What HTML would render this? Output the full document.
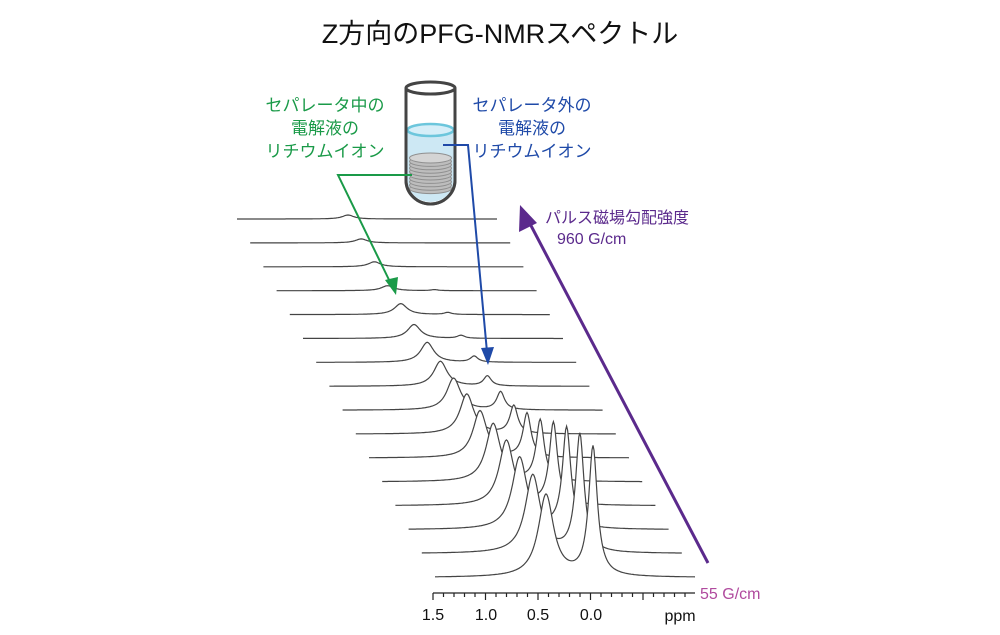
<!DOCTYPE html>
<html><head><meta charset="utf-8"><style>
html,body{margin:0;padding:0;background:#fff;}
svg{display:block}
text{font-family:"Liberation Sans","Noto Sans CJK JP",sans-serif;}
</style></head><body>
<svg id="s" width="1000" height="635" viewBox="0 0 1000 635" xmlns="http://www.w3.org/2000/svg">
<text x="500" y="43" font-size="27" text-anchor="middle" fill="#111">Z方向のPFG-NMRスペクトル</text>
<g id="traces"></g>
<!-- tube -->
<path d="M406,88 L406,180 A24.5,24 0 0 0 455,180 L455,88" fill="#fff" stroke="#444" stroke-width="3"/>
<path d="M407.5,130 L407.5,180 A23,22 0 0 0 453.5,180 L453.5,130 Z" fill="#cde8f4"/>
<ellipse cx="430.5" cy="130" rx="23" ry="6" fill="#d6eef8" stroke="#6cc6dc" stroke-width="2.5"/>
<g id="disks"></g>
<path d="M406,88 L406,180 A24.5,24 0 0 0 455,180 L455,88" fill="none" stroke="#444" stroke-width="3"/>
<ellipse cx="430.5" cy="88" rx="24.5" ry="6" fill="#fff" stroke="#444" stroke-width="3"/>
<!-- labels -->
<g font-size="17" fill="#1a9a48" text-anchor="middle">
<text x="325" y="111">セパレータ中の</text>
<text x="325" y="134">電解液の</text>
<text x="325" y="157">リチウムイオン</text>
</g>
<g font-size="17" fill="#1f4aa8" text-anchor="middle">
<text x="532" y="111">セパレータ外の</text>
<text x="532" y="134">電解液の</text>
<text x="532" y="157">リチウムイオン</text>
</g>
<polyline points="412,175 338,175 392,286" fill="none" stroke="#1a9a48" stroke-width="2"/>
<polygon points="396,295 385,280 398,277" fill="#1a9a48"/>
<polyline points="443,145 468,145 487,352" fill="none" stroke="#1f4aa8" stroke-width="2"/>
<polygon points="488,365 481,348 494,347" fill="#1f4aa8"/>
<line x1="708" y1="563" x2="527" y2="218" stroke="#5b2a8c" stroke-width="3"/>
<polygon points="520,205 519,232 537,223" fill="#5b2a8c"/>
<text x="545" y="223" font-size="16" fill="#5b2a8c">パルス磁場勾配強度</text>
<text x="557" y="244" font-size="16" fill="#5b2a8c">960 G/cm</text>
<text x="700" y="599" font-size="16" fill="#b04a9e">55 G/cm</text>
<!-- axis -->
<g stroke="#222" stroke-width="1.2" id="axis">
<line x1="433" y1="593" x2="695" y2="593"/>
</g>
<g font-size="16" fill="#111" text-anchor="middle">
<text x="433" y="620">1.5</text>
<text x="486" y="620">1.0</text>
<text x="538" y="620">0.5</text>
<text x="591" y="620">0.0</text>
<text x="680" y="621">ppm</text>
</g>
</svg>
<script>
var NS="http://www.w3.org/2000/svg";
var g=document.getElementById('traces');
var h1=[4,4,5,5,11,14,20,25,32,40,47,58,65,72,78,82];
var h2=[0,0,0,1,2,3,6,10,18,28,44,61,82,101,118,129];
for(var i=0;i<16;i++){
 var x0=237+13.2*i, y0=219+23.9*i, w=260;
 var pts=[];
 for(var t=0;t<=w;t+=1){
  var a=t-111, b=t-158;
  var w1=7+i*0.15, w2=4+i*0.08;
  var v=h1[i]/(1+(a/w1)*(a/w1))+h2[i]/(1+(b/w2)*(b/w2));
  pts.push((x0+t).toFixed(1)+","+(y0-v).toFixed(1));
 }
 var p=document.createElementNS(NS,'path');
 p.setAttribute('d',"M"+pts.join(" L")+" L"+(x0+w)+","+(y0+30)+" L"+x0+","+(y0+30)+" Z");
 p.setAttribute('fill','#fff');p.setAttribute('stroke','none');
 g.appendChild(p);
 var q=document.createElementNS(NS,'path');
 q.setAttribute('d',"M"+pts.join(" L"));
 q.setAttribute('fill','none');q.setAttribute('stroke','#444');q.setAttribute('stroke-width','1.2');
 g.appendChild(q);
}
var dk=document.getElementById('disks');
for(var k=9;k>=0;k--){
 var e=document.createElementNS(NS,'ellipse');
 e.setAttribute('cx',430.5);e.setAttribute('cy',158+k*3.4);
 e.setAttribute('rx',21);e.setAttribute('ry',5);
 e.setAttribute('fill',k==0?'#d4d4d4':'#bdbdbd');e.setAttribute('stroke','#8f8f8f');e.setAttribute('stroke-width','1');
 dk.appendChild(e);
}
var ax=document.getElementById('axis');
for(var j=0;j<=25;j++){
 var x=433+j*10.5; if(x>695)break;
 var L=document.createElementNS(NS,'line');
 var big=(j%5==0);
 L.setAttribute('x1',x);L.setAttribute('x2',x);L.setAttribute('y1',593);L.setAttribute('y2',big?600:597);
 ax.appendChild(L);
}
</script>
</body></html>
